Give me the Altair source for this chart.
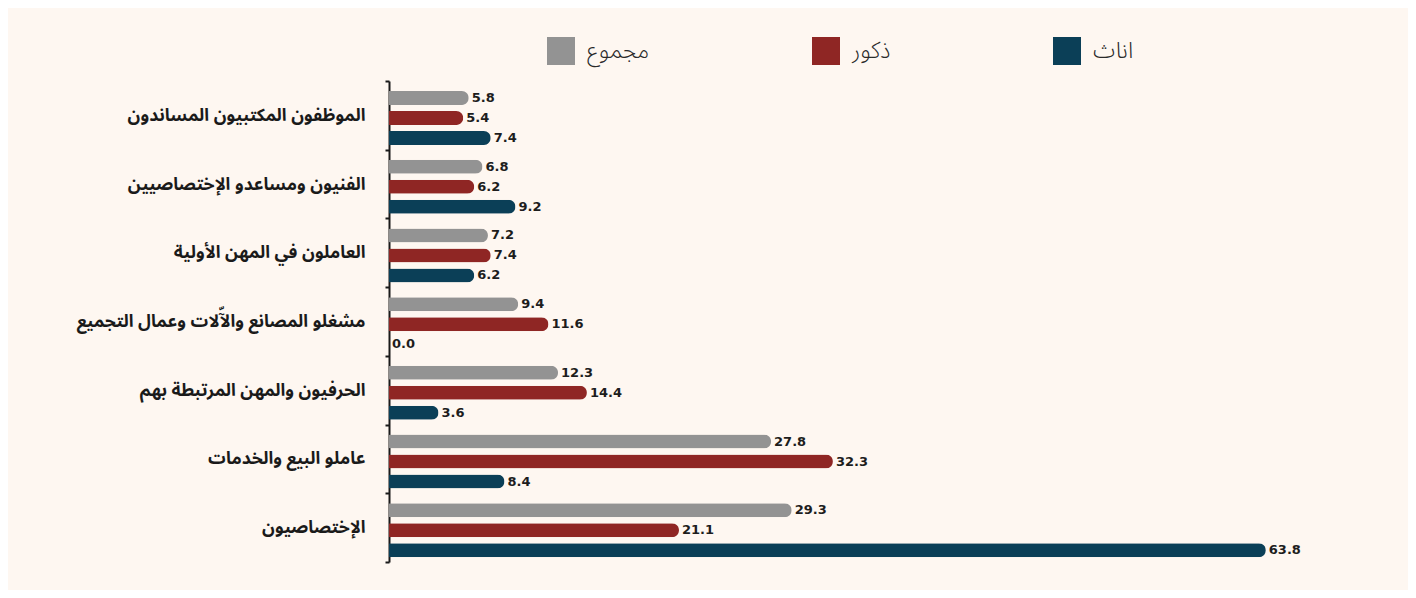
import altair as alt
import pandas as pd

categories = [
    "الموظفون المكتبيون المساندون",
    "الفنيون ومساعدو الإختصاصيين",
    "العاملون في المهن الأولية",
    "مشغلو المصانع والآّلات وعمال التجميع",
    "الحرفيون والمهن المرتبطة بهم",
    "عاملو البيع والخدمات",
    "الإختصاصيون",
]
series = ["مجموع", "ذكور", "اناث"]
total = [5.8, 6.8, 7.2, 9.4, 12.3, 27.8, 29.3]
males = [5.4, 6.2, 7.4, 11.6, 14.4, 32.3, 21.1]
females = [7.4, 9.2, 6.2, 0.0, 3.6, 8.4, 63.8]
colors = ["#939393", "#8f2624", "#0b3f57"]

rows = []
for i, c in enumerate(categories):
    for s, vals in zip(series, [total, males, females]):
        rows.append({"cat": c, "series": s, "value": vals[i]})
df = pd.DataFrame(rows)

FONT = "Noto Sans Arabic, Noto Kufi Arabic, Noto Naskh Arabic, DejaVu Sans, sans-serif"
NUMFONT = "DejaVu Sans"

y = alt.Y(
    "cat:N",
    sort=categories,
    scale=alt.Scale(paddingInner=0, paddingOuter=0),
    axis=alt.Axis(
        title=None,
        tickBand="extent",
        tickSize=4,
        tickWidth=2,
        tickColor="#1a1a1a",
        domainColor="#1a1a1a",
        domainWidth=2,
        labelPadding=20,
        labelFont=FONT,
        labelFontSize=17.5,
        labelFontWeight="bold",
        labelColor="#1a1a1a",
        labelLimit=400,
    ),
)
yoff = alt.YOffset(
    "series:N",
    sort=series,
    scale=alt.Scale(paddingInner=0.3, paddingOuter=0.368, align=0.68),
)
x = alt.X(
    "value:Q",
    scale=alt.Scale(domain=[0, 70], nice=False),
    axis=None,
)

bars = alt.Chart(df).mark_bar(cornerRadiusEnd=7).encode(
    x=x,
    y=y,
    yOffset=yoff,
    color=alt.Color(
        "series:N",
        scale=alt.Scale(domain=series, range=colors),
        legend=alt.Legend(
            title=None,
            orient="none",
            direction="horizontal",
            legendX=158,
            legendY=-44,
            columnPadding=162,
            symbolType="square",
            symbolSize=784,
            symbolStrokeWidth=0,
            symbolOpacity=1,
            labelFont=FONT,
            labelFontSize=23,
            labelFontWeight=300,
            labelColor="#2a2a2a",
            labelOffset=12,
        ),
    ),
)

labels = alt.Chart(df).mark_text(
    align="left", baseline="middle", dx=3, font=NUMFONT, fontSize=13,
    fontWeight="bold", color="#1d1d1d",
).encode(
    x=x,
    y=y,
    yOffset=yoff,
    text=alt.Text("value:Q", format=".1f"),
)

chart = (
    alt.layer(bars, labels)
    .properties(
        width=962,
        height=481,
        autosize="none",
        padding={"left": 381, "top": 73, "right": 57, "bottom": 28},
        background="#fef7f1",
    )
    .configure_view(stroke=None)
)

chart.save("out.html", embed_options={"renderer": "svg", "actions": False})
